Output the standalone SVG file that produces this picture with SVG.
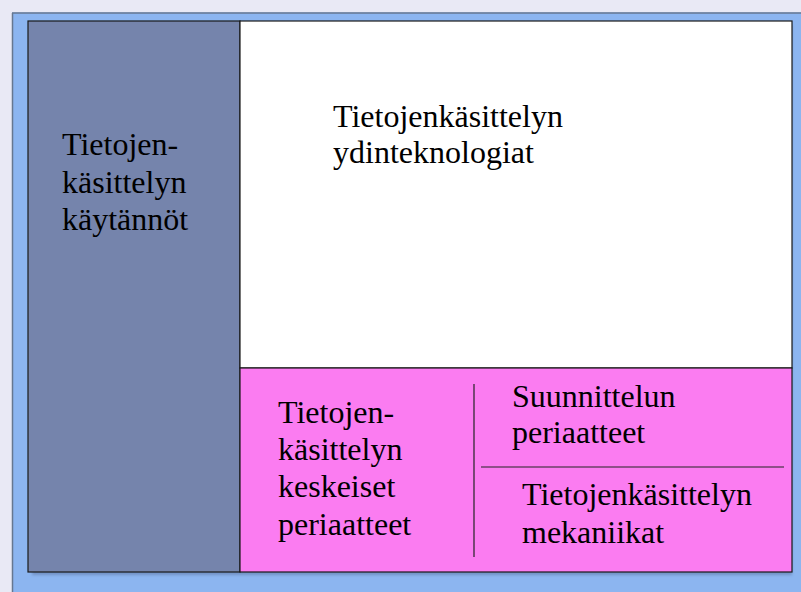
<svg xmlns="http://www.w3.org/2000/svg" width="801" height="592" viewBox="0 0 801 592">
<style>
.t{font-family:"Liberation Serif","Times New Roman",serif;font-size:32px;fill:#000}
.box{stroke:#1a1a1a;stroke-width:1.2}
</style>
<defs>
<filter id="sh" x="-5%" y="-5%" width="110%" height="110%">
<feGaussianBlur stdDeviation="1.5"/>
</filter>
</defs>
<rect x="0" y="0" width="801" height="592" fill="#e9e9f5"/>
<rect x="12" y="12.5" width="789" height="579.5" fill="#8cb5f0"/>
<line x1="12" y1="13" x2="801" y2="13" stroke="#667790" stroke-width="1.5"/>
<line x1="12.5" y1="13" x2="12.5" y2="592" stroke="#667790" stroke-width="1.5"/>
<rect x="32" y="25" width="760" height="550" fill="#4a5a80" opacity="0.4" filter="url(#sh)"/>
<g id="practices">
<rect class="box" x="28" y="21" width="212" height="551" fill="#7584ac"/>
<text class="t" x="62" y="155">Tietojen-</text>
<text class="t" x="62" y="192.5">käsittelyn</text>
<text class="t" x="62" y="230">käytännöt</text>
</g>
<g id="core">
<rect class="box" x="240" y="21" width="552" height="347" fill="#ffffff"/>
<text class="t" x="333" y="126.5">Tietojenkäsittelyn</text>
<text class="t" x="333" y="163">ydinteknologiat</text>
</g>
<g id="principles">
<rect class="box" x="240" y="368" width="552" height="204" fill="#fb7cf1"/>
<text class="t" x="278" y="422.5">Tietojen-</text>
<text class="t" x="278" y="460">käsittelyn</text>
<text class="t" x="278" y="497">keskeiset</text>
<text class="t" x="278" y="534.5">periaatteet</text>
</g>
<g id="design">
<text class="t" x="512" y="406.5">Suunnittelun</text>
<text class="t" x="512" y="443">periaatteet</text>
</g>
<g id="mechanics">
<text class="t" x="522" y="505">Tietojenkäsittelyn</text>
<text class="t" x="522" y="543">mekaniikat</text>
</g>
<g id="connectors" stroke="#222" stroke-width="1.2">
<line x1="474" y1="384" x2="474" y2="557"/>
<line x1="481" y1="467" x2="784" y2="467"/>
</g>
</svg>
